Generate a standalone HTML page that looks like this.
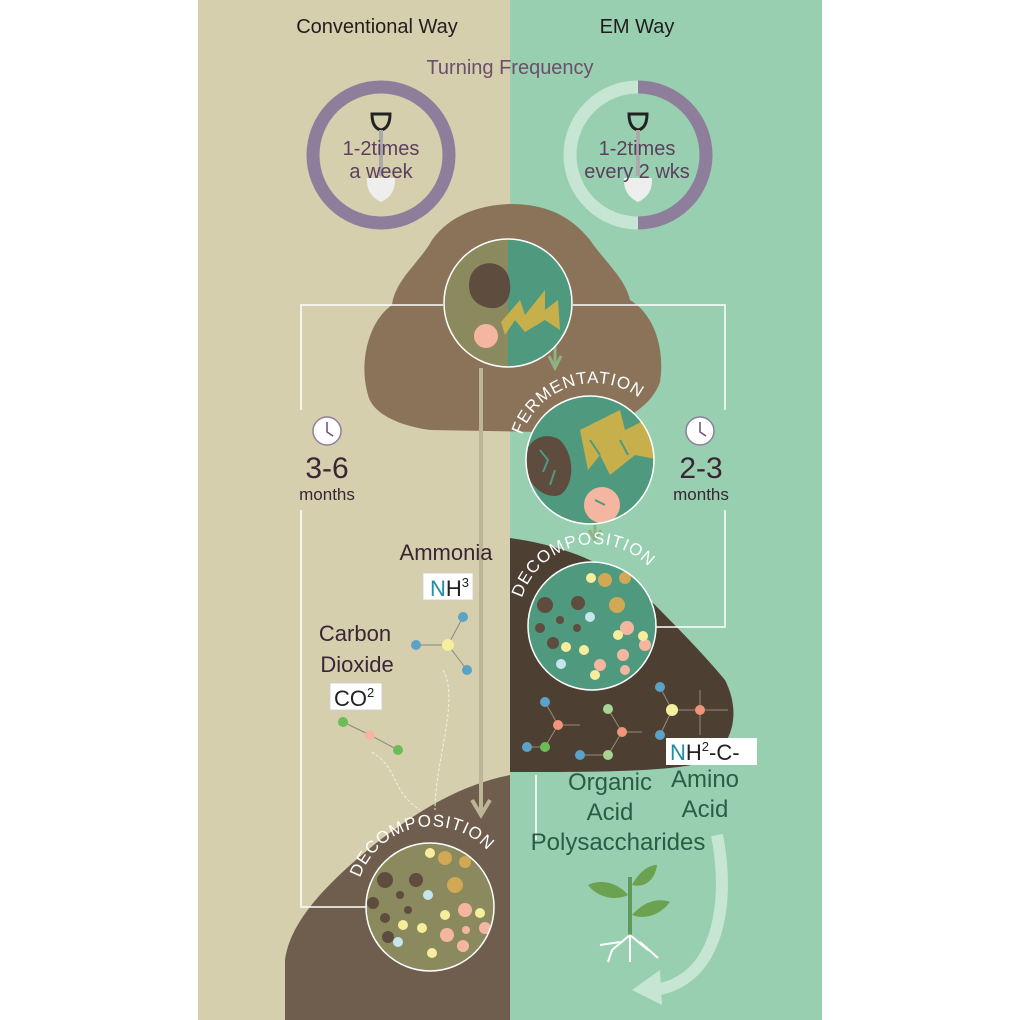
<!DOCTYPE html>
<html><head><meta charset="utf-8"><style>
html,body{margin:0;padding:0;background:#fff}
svg{display:block;font-family:"Liberation Sans","DejaVu Sans",sans-serif}
</style></head><body>
<svg width="1020" height="1020" viewBox="0 0 1020 1020" xmlns="http://www.w3.org/2000/svg">
<defs>
<clipPath id="c1"><circle cx="508" cy="303" r="64"/></clipPath>
<clipPath id="c2"><circle cx="590" cy="460" r="64"/></clipPath>
<clipPath id="c3"><circle cx="592" cy="626" r="64"/></clipPath>
<clipPath id="c4"><circle cx="430" cy="907" r="64"/></clipPath>
<path id="a2" d="M522,435 A76,76 0 0 1 662,425"/>
<path id="a3" d="M522,598 A76,76 0 0 1 668,600"/>
<path id="a4" d="M360,878 A76,76 0 0 1 504,878"/>
</defs>
<rect x="198" y="0" width="312" height="1020" fill="#d5cfae"/>
<rect x="510" y="0" width="312" height="1020" fill="#97cfb0"/>

<text x="377" y="33" font-size="20" fill="#231c1c" text-anchor="middle">Conventional Way</text>
<text x="637" y="33" font-size="20" fill="#231c1c" text-anchor="middle">EM Way</text>
<text x="510" y="74" font-size="20" fill="#6b4f6b" text-anchor="middle">Turning Frequency</text>

<circle cx="381" cy="155" r="68" fill="none" stroke="#8e7e9b" stroke-width="13"/>
<path d="M638,87 A68,68 0 0 0 638,223" fill="none" stroke="#c6e5d2" stroke-width="13"/>
<path d="M638,87 A68,68 0 0 1 638,223" fill="none" stroke="#8e7e9b" stroke-width="13"/>
<g id="shovel">
<path d="M372,114 L390,114 Q390,128 381,130 Q372,128 372,114 Z" fill="none" stroke="#222" stroke-width="3"/>
<rect x="379" y="130" width="4" height="46" fill="#aaa"/>
<path d="M367,178 L395,178 Q396,195 381,202 Q366,195 367,178 Z" fill="#eeeeee"/>
</g>
<use href="#shovel" x="257"/>
<text x="381" y="155" font-size="20" fill="#5c3f5c" text-anchor="middle">1-2times</text>
<text x="381" y="178" font-size="20" fill="#5c3f5c" text-anchor="middle">a week</text>
<text x="637" y="155" font-size="20" fill="#5c3f5c" text-anchor="middle">1-2times</text>
<text x="637" y="178" font-size="20" fill="#5c3f5c" text-anchor="middle">every 2 wks</text>

<path d="M368,395 C358,360 370,320 392,305 C395,280 420,262 432,240 C450,215 480,205 510,204 C545,204 570,215 590,240 C605,262 625,278 630,300 C655,315 665,350 660,382 C650,410 620,420 600,433 L430,430 C395,425 372,412 368,395 Z" fill="#8a7359"/>

<path d="M285,960 C290,920 330,880 380,840 C420,810 460,785 510,775 L510,1020 L285,1020 Z" fill="#6f5e4e"/>
<path d="M510,538 C560,545 600,560 640,590 C670,620 700,650 725,680 C740,710 735,740 710,760 C680,772 600,772 510,772 Z" fill="#4e3f33"/>

<g stroke="#fff" stroke-width="1.5" fill="none">
<path d="M443,305 H301 V410"/>
<path d="M301,510 V907 H367"/>
<path d="M573,305 H725 V410"/>
<path d="M725,510 V627 H656"/>
<path d="M536,775 V840"/>
</g>

<line x1="481" y1="368" x2="481" y2="813" stroke="#bcb596" stroke-width="4"/>
<path d="M472,800 L481,815 L490,800" fill="none" stroke="#bcb596" stroke-width="4"/>
<path d="M549,356 L555,368 L561,356 M555,345 V368" fill="none" stroke="#8fb281" stroke-width="3"/>
<path d="M589,530 L595,540 L601,530 M595,522 V540" fill="none" stroke="#8fb281" stroke-width="3"/>

<g clip-path="url(#c1)">
<rect x="440" y="235" width="68" height="140" fill="#8b8a5f"/>
<rect x="508" y="235" width="70" height="140" fill="#4f9a7e"/>
<path d="M470,278 C475,260 500,258 508,275 C515,295 505,310 490,308 C475,306 466,295 470,278 Z" fill="#5e4c3e"/>
<circle cx="486" cy="336" r="12" fill="#f4b6a1"/>
<path d="M501,322 L520,300 L525,315 L545,290 L545,310 L558,300 L560,330 L545,320 L525,332 L515,320 L505,335 Z" fill="#c7b04b"/>
</g>
<circle cx="508" cy="303" r="64" fill="none" stroke="#fff" stroke-width="1.5"/>

<g clip-path="url(#c2)">
<rect x="520" y="390" width="140" height="140" fill="#4f9a7e"/>
<path d="M525,460 C525,440 545,430 560,440 C575,455 575,485 560,495 C545,500 525,485 525,460 Z" fill="#5e4c3e"/>
<path d="M580,430 L620,410 L625,430 L655,415 L660,460 L635,455 L610,475 L600,455 L588,470 Z" fill="#c7b04b"/>
<circle cx="602" cy="505" r="18" fill="#f4b6a1"/>
<path d="M540,450 l8,10 l-5,12 M555,470 l-5,15 M590,440 l10,15 M620,440 l8,15 M595,500 l10,5" stroke="#4f9a7e" stroke-width="2" fill="none"/>
</g>
<circle cx="590" cy="460" r="64" fill="none" stroke="#fff" stroke-width="1.5"/>
<text font-size="17" fill="#fff" letter-spacing="1"><textPath href="#a2">FERMENTATION</textPath></text>

<g clip-path="url(#c3)">
<rect x="525" y="560" width="140" height="140" fill="#4f9a7e"/>
<g fill="#5e4c3e"><circle cx="545" cy="605" r="8"/><circle cx="578" cy="603" r="7"/><circle cx="560" cy="620" r="4"/><circle cx="540" cy="628" r="5"/><circle cx="553" cy="643" r="6"/><circle cx="577" cy="628" r="4"/></g>
<g fill="#d1a853"><circle cx="605" cy="580" r="7"/><circle cx="625" cy="578" r="6"/><circle cx="617" cy="605" r="8"/></g>
<g fill="#f4b6a1"><circle cx="627" cy="628" r="7"/><circle cx="645" cy="645" r="6"/><circle cx="623" cy="655" r="6"/><circle cx="600" cy="665" r="6"/><circle cx="625" cy="670" r="5"/></g>
<g fill="#f7ee9d"><circle cx="591" cy="578" r="5"/><circle cx="618" cy="635" r="5"/><circle cx="643" cy="636" r="5"/><circle cx="566" cy="647" r="5"/><circle cx="584" cy="650" r="5"/><circle cx="595" cy="675" r="5"/></g>
<g fill="#c6e6ee"><circle cx="590" cy="617" r="5"/><circle cx="561" cy="664" r="5"/></g>
</g>
<circle cx="592" cy="626" r="64" fill="none" stroke="#fff" stroke-width="1.5"/>
<text font-size="17" fill="#fff" letter-spacing="1"><textPath href="#a3">DECOMPOSITION</textPath></text>

<g clip-path="url(#c4)">
<rect x="365" y="840" width="140" height="140" fill="#8b8a5f"/>
<g fill="#5e4c3e"><circle cx="385" cy="880" r="8"/><circle cx="416" cy="880" r="7"/><circle cx="400" cy="895" r="4"/><circle cx="373" cy="903" r="6"/><circle cx="385" cy="918" r="5"/><circle cx="408" cy="910" r="4"/><circle cx="388" cy="937" r="6"/></g>
<g fill="#d1a853"><circle cx="445" cy="858" r="7"/><circle cx="465" cy="862" r="6"/><circle cx="455" cy="885" r="8"/></g>
<g fill="#f4b6a1"><circle cx="465" cy="910" r="7"/><circle cx="485" cy="928" r="6"/><circle cx="447" cy="935" r="7"/><circle cx="463" cy="946" r="6"/><circle cx="466" cy="930" r="4"/></g>
<g fill="#f7ee9d"><circle cx="430" cy="853" r="5"/><circle cx="445" cy="915" r="5"/><circle cx="480" cy="913" r="5"/><circle cx="403" cy="925" r="5"/><circle cx="422" cy="928" r="5"/><circle cx="432" cy="953" r="5"/></g>
<g fill="#c6e6ee"><circle cx="428" cy="895" r="5"/><circle cx="398" cy="942" r="5"/></g>
</g>
<circle cx="430" cy="907" r="64" fill="none" stroke="#fff" stroke-width="1.5"/>
<text font-size="17" fill="#fff" letter-spacing="1"><textPath href="#a4">DECOMPOSITION</textPath></text>

<g fill="#fff" stroke="#8e7e9b" stroke-width="1.5"><circle cx="327" cy="431" r="14"/><circle cx="700" cy="431" r="14"/></g>
<path d="M327,422 V432 L333,436 M700,422 V432 L706,436" stroke="#6b4f6b" stroke-width="1.5" fill="none"/>
<text x="327" y="478" font-size="30" fill="#3a2535" text-anchor="middle">3-6</text>
<text x="327" y="500" font-size="17" fill="#3a2535" text-anchor="middle">months</text>
<text x="701" y="478" font-size="30" fill="#3a2535" text-anchor="middle">2-3</text>
<text x="701" y="500" font-size="17" fill="#3a2535" text-anchor="middle">months</text>

<text x="446" y="560" font-size="22" fill="#3a2535" text-anchor="middle">Ammonia</text>
<rect x="423" y="573" width="50" height="27" fill="#fff" stroke="#ccc" stroke-width="0.8"/>
<text x="430" y="596" font-size="22" fill="#222"><tspan fill="#1b8fa6">N</tspan>H<tspan font-size="13" dy="-9">3</tspan></text>
<text x="355" y="641" font-size="22" fill="#3a2535" text-anchor="middle">Carbon</text>
<text x="357" y="672" font-size="22" fill="#3a2535" text-anchor="middle">Dioxide</text>
<rect x="330" y="683" width="52" height="27" fill="#fff" stroke="#ccc" stroke-width="0.8"/>
<text x="334" y="706" font-size="22" fill="#222">CO<tspan font-size="13" dy="-9">2</tspan></text>
<g stroke="#8a8a7a" stroke-width="1" fill="none"><path d="M463,617 L448,645 L416,645 M448,645 L467,670 M343,722 L370,735 L398,750"/></g>
<circle cx="463" cy="617" r="5" fill="#5aa3c6"/><circle cx="448" cy="645" r="6" fill="#f5ef9e"/><circle cx="416" cy="645" r="5" fill="#5aa3c6"/><circle cx="467" cy="670" r="5" fill="#5aa3c6"/>
<circle cx="343" cy="722" r="5" fill="#6bbd5a"/><circle cx="370" cy="735" r="5" fill="#f4b6a1"/><circle cx="398" cy="750" r="5" fill="#6bbd5a"/>
<path d="M372,752 C400,770 390,790 420,810 M443,670 C460,700 435,760 435,810" stroke="#f4f0e0" stroke-width="1" stroke-dasharray="3,2" fill="none"/>

<g stroke="#9a8a7a" stroke-width="1" fill="none">
<path d="M545,702 L558,725 L580,725 M558,725 L545,747 L527,747 M608,709 L622,732 L642,732 M622,732 L608,755 L580,755 M660,687 L672,710 L700,710 L728,710 M700,690 V735 M672,710 L660,735"/>
</g>
<g><circle cx="545" cy="702" r="5" fill="#5aa3c6"/><circle cx="558" cy="725" r="5" fill="#f0957a"/><circle cx="545" cy="747" r="5" fill="#6bbd5a"/><circle cx="527" cy="747" r="5" fill="#5aa3c6"/>
<circle cx="608" cy="709" r="5" fill="#a6d494"/><circle cx="622" cy="732" r="5" fill="#f0957a"/><circle cx="608" cy="755" r="5" fill="#a6d494"/><circle cx="580" cy="755" r="5" fill="#5aa3c6"/>
<circle cx="660" cy="687" r="5" fill="#5aa3c6"/><circle cx="672" cy="710" r="6" fill="#f5ef9e"/><circle cx="700" cy="710" r="5" fill="#f0957a"/><circle cx="660" cy="735" r="5" fill="#5aa3c6"/></g>
<rect x="666" y="738" width="91" height="27" fill="#fff"/>
<text x="670" y="760" font-size="22" fill="#222"><tspan fill="#1b8fa6">N</tspan>H<tspan font-size="13" dy="-9">2</tspan><tspan dy="9">-C-</tspan></text>
<text x="610" y="790" font-size="24" fill="#2d5c46" text-anchor="middle">Organic</text>
<text x="610" y="820" font-size="24" fill="#2d5c46" text-anchor="middle">Acid</text>
<text x="618" y="850" font-size="24" fill="#2d5c46" text-anchor="middle">Polysaccharides</text>
<text x="705" y="787" font-size="24" fill="#2d5c46" text-anchor="middle">Amino</text>
<text x="705" y="817" font-size="24" fill="#2d5c46" text-anchor="middle">Acid</text>

<rect x="628" y="877" width="4" height="60" fill="#5f9a5a"/>
<path d="M628,895 C615,880 598,880 588,885 C600,900 618,900 628,895 Z" fill="#6aa24f"/>
<path d="M632,885 C640,870 650,865 657,865 C655,880 645,888 632,885 Z" fill="#6aa24f"/>
<path d="M632,915 C645,900 660,898 670,902 C660,915 645,920 632,915 Z" fill="#6aa24f"/>
<path d="M630,935 L612,950 M630,935 L648,950 M630,935 V962 M620,942 L600,945 M640,942 L658,958 M612,950 L608,962" stroke="#fff" stroke-width="2" fill="none"/>
<path d="M717,835 C730,900 720,980 655,990" fill="none" stroke="#c6e5d2" stroke-width="12"/>
<path d="M660,970 L632,990 L662,1005 Z" fill="#c6e5d2"/>
</svg>
</body></html>
